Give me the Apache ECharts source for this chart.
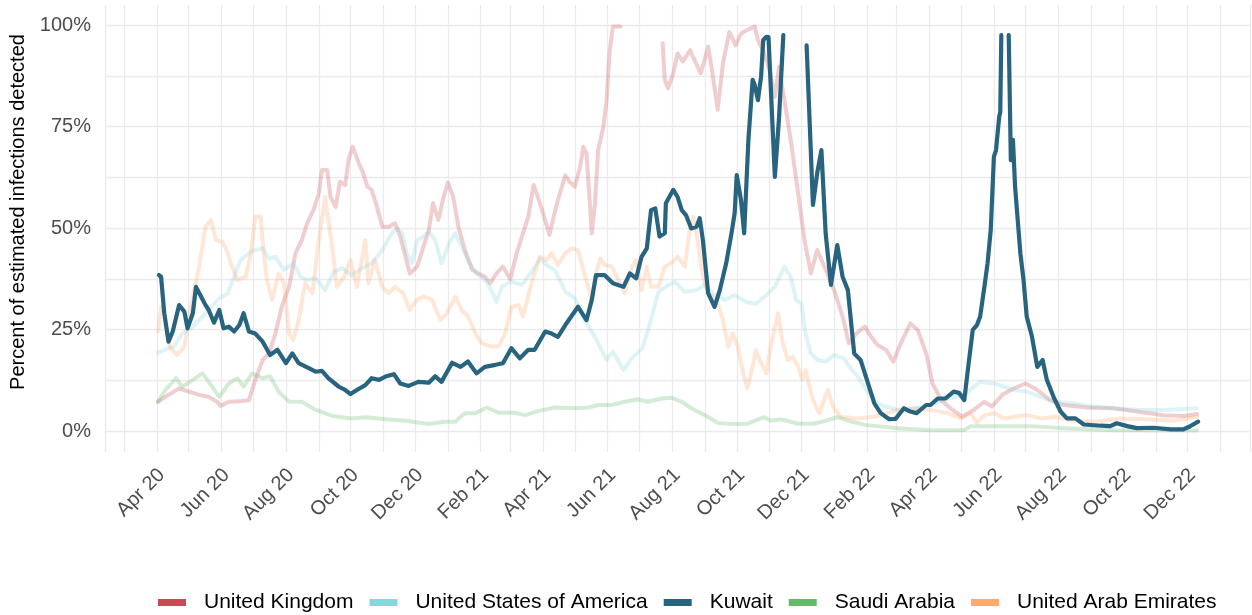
<!DOCTYPE html>
<html>
<head>
<meta charset="utf-8">
<script src="https://cdn.jsdelivr.net/npm/echarts@6/dist/echarts.min.js"></script>
<style>
  html, body { margin: 0; padding: 0; background: #fff; }
  #chart { width: 1252px; height: 615px; }
</style>
</head>
<body>
<div id="chart"></div>
<script>
// days since 1 Apr 2020, percent of estimated infections detected (null = off the scale)
const unitedKingdom = [
  [1, 7.2], [8, 8.4], [21, 10.5], [30, 9.7], [40, 8.9], [49, 8.4], [57, 7.2], [60, 6.2], [68, 7.2], [78, 7.3],
  [87, 7.6], [93, 12.6], [100, 17.5], [106, 19.1], [112, 24], [118, 30.6], [125, 35.5], [131, 43.8], [137, 47],
  [142, 51.2], [148, 54.4], [153, 58.5], [156, 64.3], [161, 64.3], [164, 57.7], [169, 55.2], [173, 61.4],
  [178, 60.6], [181, 66.7], [185, 70], [191, 65.9], [195, 63.5], [199, 60.2], [203, 59.4], [208, 55.2],
  [213, 50.3], [219, 50.3], [225, 51.2], [230, 47.9], [235, 42.9], [239, 38.8], [246, 40.5], [250, 43.8],
  [257, 49.5], [261, 56.1], [266, 52], [271, 57.7], [275, 61.2], [280, 57.7], [285, 50.3], [291, 44.6],
  [298, 39.7], [304, 38.8], [310, 38], [315, 36.4], [321, 38.8], [327, 40.5], [334, 37.4], [340, 43.8],
  [346, 48.7], [351, 52.8], [356, 60.6], [360, 57.7], [365, 53.6], [371, 48.3], [375, 52.8], [379, 56.9],
  [386, 63], [390, 61.4], [395, 60.2], [400, 65.1], [403, 70], [406, 68.4], [411, 48.7], [414, 56.1],
  [417, 69.2], [422, 75], [425, 81.5], [428, 93.8], [431, 99.6], [438, 99.6], [450, null],
  [478, 95.5], [480, 86.5], [483, 84.4], [488, 88.1], [492, 93], [497, 91], [504, 93.8], [508, 91.4],
  [514, 88.1], [521, 94.7], [525, 88.1], [530, 79.1], [535, 90.6], [541, 98.3], [547, 95], [552, 97.9],
  [558, 98.8], [565, 99.6], [568, 96.3], [574, 93], [579, 88.9], [584, 82.3], [588, 89.7], [593, 81.5],
  [599, 71.7], [606, 58.5], [612, 47], [618, 38.8], [624, 44.6], [632, 39.7], [640, 34.7], [648, 28.2],
  [654, 21.6], [661, 24], [669, 25.7], [675, 23.2], [681, 21.2], [689, 20], [696, 17.1], [703, 21.6],
  [712, 26.5], [719, 24.9], [727, 19.1], [733, 11.7], [741, 7.6], [750, 5.6], [761, 3.5], [772, 5.2],
  [782, 7.2], [789, 6], [799, 8.9], [810, 10.5], [821, 11.7], [832, 10.1], [844, 7.6], [857, 6.4],
  [879, 5.8], [904, 5.6], [926, 4.8], [951, 3.9], [970, 3.7], [983, 4.2]
];

const unitedStates = [
  [1, 19.3], [8, 20.1], [16, 20.8], [24, 24], [32, 25.3], [40, 27.3], [49, 29.8], [59, 32.7], [67, 33.9],
  [73, 38], [79, 42.1], [89, 44.2], [100, 45], [106, 42.5], [112, 42.9], [120, 39.7], [129, 41.3], [136, 38],
  [142, 37.2], [150, 37.6], [159, 34.7], [167, 39.2], [175, 40.1], [184, 38.4], [194, 40.1], [203, 41.3],
  [213, 44.6], [222, 48.7], [227, 49.9], [232, 48.7], [236, 43.8], [241, 41.3], [246, 47], [252, 47.9],
  [257, 49.1], [263, 47], [269, 41.3], [276, 46.2], [282, 48.7], [288, 45.4], [294, 42.1], [302, 38.8],
  [310, 37.2], [316, 34.7], [321, 31.8], [326, 35.5], [335, 36.8], [345, 36], [353, 38.8], [362, 42.5],
  [370, 40.5], [376, 39.7], [386, 34.3], [395, 32.7], [404, 27.3], [414, 23.2], [425, 17.5], [431, 19.5],
  [441, 15], [450, 18.3], [459, 20.4], [466, 26.5], [474, 34.3], [481, 35.5], [489, 36.8], [499, 34.3],
  [510, 34.7], [518, 36], [525, 33.9], [537, 32.3], [546, 33.5], [557, 31.8], [566, 31.3], [576, 33.5],
  [584, 35.5], [593, 40.5], [599, 38], [604, 32.3], [609, 31.4], [613, 24], [618, 19.1], [624, 17.5],
  [632, 17.1], [640, 18.7], [650, 17.9], [653, 16.3], [662, 13.5], [671, 10], [679, 7.5], [684, 6.4],
  [700, 5.2], [716, 5.6], [731, 6.4], [747, 8], [763, 8.9], [778, 12.1], [791, 11.7], [801, 10.9],
  [810, 10.1], [822, 9.7], [835, 8.4], [848, 7.2], [867, 6.8], [885, 6], [904, 5.6], [929, 5.2],
  [954, 5.2], [983, 5.6]
];

const kuwait = [
  [2, 38.4], [4, 38], [7, 29], [11, 22], [15, 24.5], [21, 31], [26, 29.4], [29, 25.3], [34, 29], [37, 35.5],
  [41, 33.5], [46, 31], [49, 29.8], [54, 26.7], [59, 29.8], [63, 25.3], [68, 25.7], [73, 24.5], [78, 26.1],
  [82, 29], [87, 24.5], [93, 24], [100, 22], [107, 18.7], [114, 20], [122, 16.7], [128, 19.1], [134, 16.7],
  [144, 15.4], [150, 14.6], [156, 14.8], [162, 13], [172, 10.9], [178, 10.1], [183, 9.1], [189, 10.1],
  [197, 11.3], [203, 13], [210, 12.6], [216, 13.4], [224, 14], [230, 11.7], [238, 11.1], [247, 12.1],
  [257, 11.9], [263, 13.5], [269, 12.1], [279, 16.8], [287, 15.8], [294, 17.1], [302, 14.2], [310, 15.8],
  [320, 16.3], [327, 16.7], [335, 20.4], [343, 17.9], [351, 20], [357, 20], [367, 24.5], [373, 24],
  [379, 23.2], [386, 26.1], [398, 30.6], [406, 27.3], [411, 32.3], [415, 38.4], [423, 38.4], [431, 36.4],
  [441, 35.5], [447, 38.8], [453, 37.6], [458, 42.9], [463, 45], [467, 54.4], [471, 54.8], [475, 47.9],
  [480, 48.7], [481, 56.1], [488, 59.4], [492, 57.7], [496, 54.4], [500, 53.2], [505, 49.9], [510, 50.3],
  [513, 52.4], [516, 47], [521, 33.9], [527, 30.6], [532, 34.7], [538, 41.3], [543, 48.7], [546, 53.6],
  [548, 63], [552, 56.9], [555, 48.7], [559, 71.7], [563, 86.5], [565, 85.2], [568, 81.5], [571, 87.3],
  [573, 96.3], [576, 97.1], [578, 97], [584, 62.6], [588, 77.4], [592, 97.5], [600, null],
  [614, 95], [620, 55.7], [624, 63.5], [628, 69.2], [632, 48.7], [637, 36], [643, 45.8], [648, 38],
  [653, 34.7], [659, 19.1], [665, 17.5], [671, 12.6], [678, 6.8], [684, 4.4], [692, 2.9], [698, 3],
  [706, 5.6], [712, 4.8], [718, 4.4], [727, 6.4], [731, 6.4], [738, 8], [745, 8], [753, 9.7], [758, 9.4],
  [763, 7.6], [766, 14.2], [771, 24.9], [775, 26.1], [778, 28.2], [782, 35.5], [785, 41.3], [788, 49.5],
  [791, 67.6], [793, 69.2], [796, 77.4], [797, 78.5], [798, 97.5], [802, null],
  [805, 97.5], [807, 66.7], [809, 71.7], [811, 60.2], [813, 53.6], [816, 43.8], [819, 37.2], [822, 28.2],
  [827, 23.2], [832, 15.8], [837, 17.5], [841, 12.6], [848, 8], [854, 4.8], [860, 3.1], [868, 3.1],
  [876, 1.6], [892, 1.3], [901, 1.2], [907, 1.9], [917, 1.2], [926, 0.7], [942, 0.8], [958, 0.4],
  [970, 0.4], [976, 1.1], [984, 2.3]
];

const saudiArabia = [
  [1, 7.2], [8, 10.1], [18, 13], [24, 10.9], [34, 12.6], [43, 14.2], [49, 12.1], [59, 8.4], [68, 11.7],
  [76, 13], [82, 10.9], [90, 14.2], [100, 13], [107, 13.5], [115, 9.7], [125, 7.2], [137, 7.2], [150, 5.2],
  [166, 3.7], [184, 3.1], [197, 3.4], [216, 2.9], [235, 2.5], [257, 1.7], [272, 2.3], [282, 2.3], [291, 4.4],
  [301, 4.4], [312, 5.8], [323, 4.5], [338, 4.5], [348, 3.9], [360, 4.9], [376, 5.8], [395, 5.6], [408, 5.8],
  [417, 6.4], [430, 6.4], [442, 7.2], [455, 7.8], [464, 7.2], [477, 8], [486, 8.2], [496, 7.2], [505, 5.6],
  [518, 3.9], [530, 2], [543, 1.7], [558, 1.8], [574, 3.4], [580, 2.5], [590, 2.9], [606, 1.8], [621, 1.8],
  [637, 2.9], [643, 3.4], [656, 2.3], [669, 1.5], [681, 1.2], [700, 0.7], [731, 0.2], [763, 0.2], [769, 1.2],
  [794, 1.2], [826, 1.2], [857, 0.7], [904, 0.2], [983, 0.1]
];

const unitedArabEmirates = [
  [1, 24.5], [4, 30.6], [7, 29.8], [12, 20.8], [19, 18.7], [26, 20.8], [32, 30.6], [40, 40.5], [46, 50.3],
  [51, 52], [56, 47], [62, 46.6], [67, 43.8], [71, 40.5], [76, 37.2], [84, 38], [89, 43.8], [93, 52.8],
  [98, 52.8], [101, 43.8], [104, 37.2], [109, 32.3], [115, 38.8], [120, 36.4], [125, 24], [129, 22.4],
  [134, 27.3], [140, 36.4], [147, 33.9], [153, 47], [159, 57.7], [166, 44.6], [170, 35.5], [177, 38],
  [183, 42.1], [189, 35.5], [197, 47], [200, 36.4], [206, 42.1], [213, 35.5], [219, 33.9], [225, 35.5],
  [233, 33.9], [239, 29.8], [246, 32.3], [252, 33.1], [260, 32.3], [268, 27.3], [274, 29], [282, 33.1],
  [288, 29.8], [294, 28.2], [301, 24], [307, 21.6], [316, 20.8], [323, 20.8], [329, 24], [335, 30.6],
  [342, 31], [346, 28.2], [354, 36.4], [362, 42.9], [368, 42.1], [373, 43.8], [379, 40.9], [386, 43.8],
  [392, 45], [398, 44.6], [404, 38.8], [411, 32.3], [415, 38.8], [419, 42.5], [423, 40.9], [430, 40.5],
  [436, 37.2], [442, 33.9], [449, 40.5], [453, 42.1], [458, 34.7], [463, 40.5], [467, 35.5], [474, 35.5],
  [480, 40.5], [486, 41.3], [492, 42.9], [499, 40.5], [503, 48.7], [507, 52.8], [511, 47], [516, 38],
  [521, 33.9], [529, 32.3], [535, 27.3], [540, 20.8], [544, 24], [549, 20.8], [554, 14.2], [558, 10.5],
  [563, 15.8], [566, 20], [571, 16.7], [576, 14.2], [580, 20.8], [587, 29], [591, 22.4], [596, 17.5],
  [601, 18.3], [606, 15.8], [610, 12.6], [613, 15], [620, 7.6], [626, 4.4], [634, 10.1], [639, 6],
  [646, 3.5], [662, 3.1], [678, 3.5], [684, 3.9], [700, 5.2], [716, 5.6], [731, 5.2], [747, 4.4],
  [760, 3.1], [769, 4.4], [775, 2], [782, 3.9], [791, 4.4], [801, 3.1], [810, 3.5], [822, 3.9], [835, 3.1],
  [848, 3.5], [867, 2.5], [888, 2.3], [910, 3.1], [935, 2.9], [961, 2.5], [983, 3.5]
];

const countries = ['United Kingdom', 'United States of America', 'Kuwait', 'Saudi Arabia', 'United Arab Emirates'];
const colors = ['#c94a53', '#87d5de', '#28647f', '#64b96a', '#ffa86f'];
const monthNames = ['Jan', 'Feb', 'Mar', 'Apr', 'May', 'Jun', 'Jul', 'Aug', 'Sep', 'Oct', 'Nov', 'Dec'];

const DAY = 864e5;
const start = new Date(2020, 3, 1).getTime();
const xMin = start - 49 * DAY;
const xMax = start + 1033 * DAY;

function toTime(rows) {
  return rows.map(r => [start + r[0] * DAY, r[1]]);
}

const chart = echarts.init(document.getElementById('chart'), null, { renderer: 'canvas' });

const seriesRows = [unitedKingdom, unitedStates, kuwait, saudiArabia, unitedArabEmirates];
// faded ones first, Kuwait on top
const drawOrder = [0, 1, 3, 4, 2];
const series = drawOrder.map(i => ({
  name: countries[i],
  type: 'line',
  xAxisIndex: 1,
  yAxisIndex: 1,
  data: toTime(seriesRows[i]),
  showSymbol: false,
  symbol: 'none',
  connectNulls: false,
  color: colors[i],
  lineStyle: {
    width: i === 2 ? 4.2 : 4,
    color: colors[i],
    opacity: i === 2 ? 1 : 0.28,
    cap: 'round',
    join: 'round'
  },
  z: i === 2 ? 5 : 2
}));

const option = {
  animation: false,
  backgroundColor: '#fff',
  textStyle: { fontFamily: '"Liberation Sans", Arial, sans-serif' },
  grid: [
    { left: 105, right: 2, top: 5, bottom: 163 },
    { left: 105, right: 2, top: 25, bottom: 184 }
  ],
  xAxis: [
    {
      type: 'time',
      gridIndex: 0,
      min: xMin,
      max: xMax,
      splitNumber: 36,
      minInterval: 28 * DAY,
      maxInterval: 31 * DAY,
      axisLine: { show: false },
      axisTick: { show: false },
      splitLine: { show: true, lineStyle: { color: '#ebebeb', width: 1.3 } },
      axisLabel: {
        rotate: 45,
        margin: 15,
        padding: [14, 0, 0, 0],
        fontSize: 20,
        color: '#4d4d4d',
        hideOverlap: false,
        formatter: function (value) {
          const d = new Date(value);
          const m = d.getMonth();
          if (d.getDate() !== 1 || m % 2 === 0) return '';
          return monthNames[m] + ' ' + String(d.getFullYear()).slice(2);
        }
      }
    },
    {
      type: 'time',
      gridIndex: 1,
      min: xMin,
      max: xMax,
      show: false,
      splitLine: { show: false }
    }
  ],
  yAxis: [
    {
      type: 'value',
      gridIndex: 0,
      min: 0,
      max: 1,
      show: false,
      splitLine: { show: false }
    },
    {
      type: 'value',
      gridIndex: 1,
      min: 0,
      max: 100,
      interval: 12.5,
      name: 'Percent of estimated infections detected',
      nameLocation: 'middle',
      nameGap: 72,
      nameTextStyle: { fontSize: 20, color: '#000', padding: [0, 0, 0, 32] },
      axisLine: { show: false },
      axisTick: { show: false },
      splitLine: { show: true, lineStyle: { color: '#ebebeb', width: 1.3 } },
      axisLabel: {
        margin: 14,
        fontSize: 20,
        color: '#4d4d4d',
        formatter: function (v) {
          return v % 25 === 0 ? v + '%' : '';
        }
      }
    }
  ],
  legend: {
    left: 153,
    top: 587,
    itemWidth: 28,
    itemHeight: 7,
    itemGap: 16,
    icon: 'rect',
    textStyle: { fontSize: 21, color: '#000', padding: [0, 0, 0, 13] },
    data: countries.map((c, i) => ({ name: c, itemStyle: { color: colors[i], opacity: 1 } }))
  },
  series: series
};

chart.setOption(option);
</script>
</body>
</html>
